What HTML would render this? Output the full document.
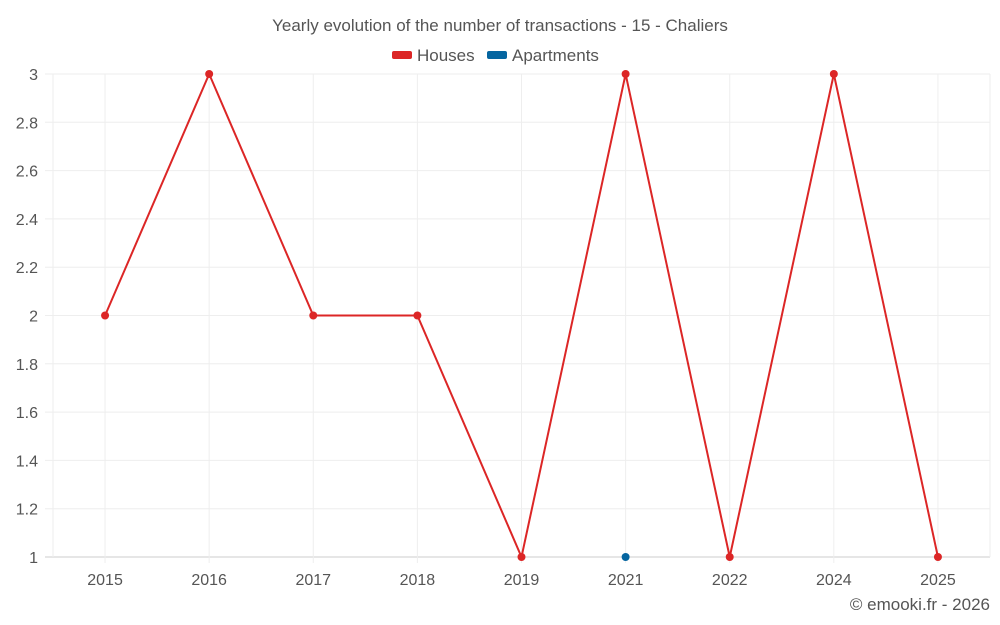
<!DOCTYPE html>
<html><head><meta charset="utf-8"><style>
body{margin:0;background:#fff;font-family:"Liberation Sans",sans-serif;}
svg{display:block}
</style></head><body>
<svg id="chart" width="1000" height="625">
<text x="500" y="31" text-anchor="middle" font-size="17" fill="#555">Yearly evolution of the number of transactions - 15 - Chaliers</text>
<g>
<g><rect x="392" y="51" width="20" height="8" rx="2" fill="#dc2626"/><text x="417" y="61" font-size="17" fill="#555">Houses</text></g>
<g><rect x="487" y="51" width="20" height="8" rx="2" fill="#0565a0"/><text x="512" y="61" font-size="17" fill="#555">Apartments</text></g>
</g>
<g id="grid"></g><g id="axes"></g><g id="series"></g>
<text x="990" y="610" text-anchor="end" font-size="17" fill="#555">© emooki.fr - 2026</text>
</svg>
<script>
const categories=["2015","2016","2017","2018","2019","2021","2022","2024","2025"];
const houses=[2,3,2,2,1,3,1,3,1];
const apartments=[null,null,null,null,null,1,null,null,null];
const yTicks=[1,1.2,1.4,1.6,1.8,2,2.2,2.4,2.6,2.8,3];
const L=53,R=990,T=74,B=557,yMin=1,yMax=3;
const NS="http://www.w3.org/2000/svg";
const bw=(R-L)/categories.length;
const xs=i=>L+bw*(i+0.5);
const ys=v=>B-(v-yMin)/(yMax-yMin)*(B-T);
function mk(t,a,p){const e=document.createElementNS(NS,t);for(const k in a)e.setAttribute(k,a[k]);p.appendChild(e);return e;}
const g=document.getElementById('grid'),ax=document.getElementById('axes'),s=document.getElementById('series');
yTicks.forEach(v=>{
 const l=mk('line',{x1:L-8,x2:R,y1:ys(v),y2:ys(v),stroke:v===yMin?'#ccc':'#eee'},g);
 
 
 const t=mk('text',{x:38,y:ys(v)+6,'text-anchor':'end','font-size':16,fill:'#555'},ax);
 t.textContent=String(v);
 
 
});
[L,R].forEach(x=>{
 const l=mk('line',{x1:x,x2:x,y1:T,y2:B,stroke:'#eee'},g);
 
 
});
categories.forEach((c,i)=>{
 const l=mk('line',{x1:xs(i),x2:xs(i),y1:T,y2:B+6,stroke:'#eee'},g);
 
 
 const t=mk('text',{x:xs(i),y:585,'text-anchor':'middle','font-size':16,fill:'#555'},ax);
 t.textContent=c;
 
 
});
function draw(data,color,name){
 let d='';data.forEach((v,i)=>{if(v==null)return;d+=(d?'L':'M')+xs(i)+','+ys(v);});
 const p=mk('path',{d:d,fill:'none',stroke:color,'stroke-width':2},s);
 
 
 data.forEach((v,i)=>{if(v==null)return;
  const c=mk('circle',{cx:xs(i),cy:ys(v),r:4,fill:color},s);
  
  
 });
}
draw(houses,'#dc2626','houses');
draw(apartments,'#0565a0','apartments');
</script>
</body></html>
